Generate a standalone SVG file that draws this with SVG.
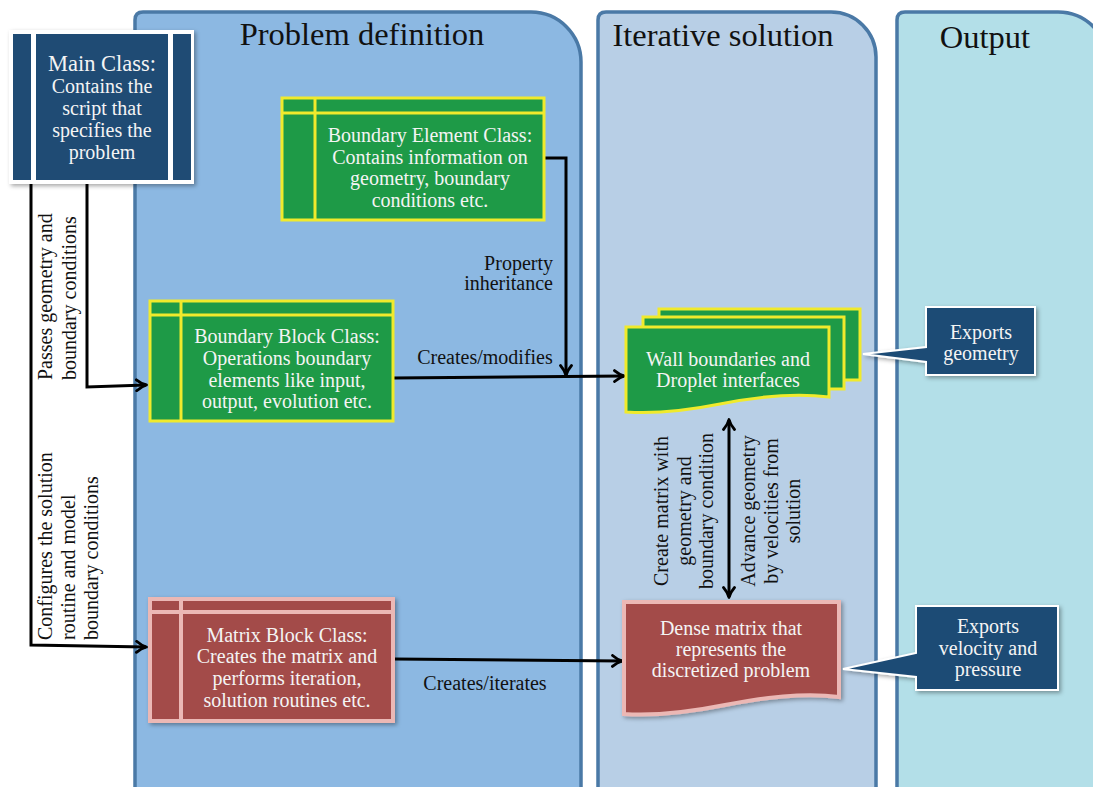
<svg xmlns="http://www.w3.org/2000/svg" width="1093" height="787" viewBox="0 0 1093 787">
<style>
text{font-family:"Liberation Serif","Times New Roman",serif;font-size:20px}
.w{fill:#f4f4f4;text-anchor:middle}
.k{fill:#111}
.t{fill:#111;font-size:32.5px;text-anchor:middle}
.c{fill:#111;text-anchor:middle}
.col{stroke:#4a79a6;stroke-width:3.5}
.g{fill:#1e9a47;stroke:#f0ea2c;stroke-width:3}
.r{fill:#a34c4a;stroke:#ebb8b5;stroke-width:4}
.ln{fill:none;stroke:#000;stroke-width:3}
.db{fill:#1f4b74}
</style>
<defs>
<marker id="ah" viewBox="0 0 14 14" refX="12" refY="7" markerWidth="14" markerHeight="14" markerUnits="userSpaceOnUse" orient="auto-start-reverse">
<path d="M2.5,1.5 Q7,5.5 12.5,7 Q7,8.5 2.5,12.5" fill="none" stroke="#000" stroke-width="2.8" stroke-linecap="round" stroke-linejoin="round"/>
</marker>
<filter id="sh" x="-10%" y="-10%" width="130%" height="130%">
<feDropShadow dx="2" dy="2" stdDeviation="2" flood-color="#000" flood-opacity="0.35"/>
</filter>
</defs>

<!-- columns -->
<g id="col-problem">
<path class="col" fill="#8cb8e2" d="M135,792 V20 Q135,12 143,12 H531 A50,50 0 0 1 581,62 V792"/>
<text class="t" x="362" y="45">Problem definition</text>
</g>
<g id="col-iterative">
<path class="col" fill="#b8cfe6" d="M598,792 V20 Q598,12 606,12 H831 A45,45 0 0 1 876,57 V792"/>
<text class="t" x="723" y="46">Iterative solution</text>
</g>
<g id="col-output">
<path class="col" fill="#b3dfe8" d="M897,792 V20 Q897,12 905,12 H1058 A50,50 0 0 1 1108,62 V792"/>
<text class="t" x="985" y="48">Output</text>
</g>

<!-- connectors -->
<g id="connectors">
<path class="ln" d="M87,183 V387 L146,385" marker-end="url(#ah)"/>
<path class="ln" d="M31,183 V645 L146,647" marker-end="url(#ah)"/>
<path class="ln" d="M544,158 H566 V375" marker-end="url(#ah)"/>
<path class="ln" d="M393,378 L624,376" marker-end="url(#ah)"/>
<path class="ln" d="M394,659 L622,661" marker-end="url(#ah)"/>
<path class="ln" d="M729,420 V597" marker-start="url(#ah)" marker-end="url(#ah)"/>
<text class="k" x="553" y="270" text-anchor="end">Property</text>
<text class="k" x="553" y="290" text-anchor="end">inheritance</text>
<text class="k" x="485" y="364" text-anchor="middle">Creates/modifies</text>
<text class="k" x="485" y="690" text-anchor="middle">Creates/iterates</text>
<g transform="translate(52,380) rotate(-90)"><text class="k" x="0" y="0">Passes geometry and</text></g>
<g transform="translate(76,380) rotate(-90)"><text class="k" x="0" y="0">boundary conditions</text></g>
<g transform="translate(52,640) rotate(-90)"><text class="k" x="0" y="0">Configures the solution</text></g>
<g transform="translate(75,640) rotate(-90)"><text class="k" x="0" y="0">routine and model</text></g>
<g transform="translate(98,640) rotate(-90)"><text class="k" x="0" y="0">boundary conditions</text></g>
<g transform="translate(668,511) rotate(-90)"><text class="c" x="0" y="0">Create matrix with</text></g>
<g transform="translate(691,511) rotate(-90)"><text class="c" x="0" y="0">geometry and</text></g>
<g transform="translate(713,511) rotate(-90)"><text class="c" x="0" y="0">boundary condition</text></g>
<g transform="translate(755,511) rotate(-90)"><text class="c" x="0" y="0">Advance geometry</text></g>
<g transform="translate(778,511) rotate(-90)"><text class="c" x="0" y="0">by velocities from</text></g>
<g transform="translate(800,511) rotate(-90)"><text class="c" x="0" y="0">solution</text></g>
</g>

<!-- main class -->
<g id="main-class">
<rect x="9" y="30" width="185" height="154" fill="#fff" filter="url(#sh)"/>
<rect class="db" x="13" y="34" width="18" height="146"/>
<rect class="db" x="36" y="34" width="132" height="146"/>
<rect class="db" x="173" y="34" width="18" height="146"/>
<text class="w" x="102" y="71" style="font-size:22.5px">Main Class:</text>
<text class="w" x="102" y="93">Contains the</text>
<text class="w" x="102" y="115">script that</text>
<text class="w" x="102" y="137">specifies the</text>
<text class="w" x="102" y="159">problem</text>
</g>

<!-- boundary element class -->
<g id="boundary-element">
<rect class="g" x="282" y="98" width="262" height="122"/>
<path class="g" fill="none" d="M282,113 H544 M315,98 V220"/>
<text class="w" x="430" y="142">Boundary Element Class:</text>
<text class="w" x="430" y="163.5">Contains information on</text>
<text class="w" x="430" y="185">geometry, boundary</text>
<text class="w" x="430" y="206.5">conditions etc.</text>
</g>

<!-- boundary block class -->
<g id="boundary-block">
<rect class="g" x="150" y="301" width="243" height="120"/>
<path class="g" fill="none" d="M150,315 H393 M181,301 V421"/>
<text class="w" x="287" y="343">Boundary Block Class:</text>
<text class="w" x="287" y="365">Operations boundary</text>
<text class="w" x="287" y="387">elements like input,</text>
<text class="w" x="287" y="408">output, evolution etc.</text>
</g>

<!-- matrix block class -->
<g id="matrix-block">
<rect class="r" x="150" y="599" width="243" height="122" filter="url(#sh)"/>
<path class="r" fill="none" d="M150,612 H393 M181,599 V721"/>
<text class="w" x="287" y="642">Matrix Block Class:</text>
<text class="w" x="287" y="663">Creates the matrix and</text>
<text class="w" x="287" y="685">performs iteration,</text>
<text class="w" x="287" y="707">solution routines etc.</text>
</g>

<!-- wall boundaries -->
<g id="wall-boundaries">
<path class="g" d="M659,309 H860 V380 H659 Z"/>
<path class="g" d="M643,317 H844 V389 H643 Z"/>
<path class="g" d="M626,327 H829 V397 C790,392 750,398 720,404 C690,410 655,414 626,412 Z"/>
<text class="w" x="728" y="366">Wall boundaries and</text>
<text class="w" x="728" y="387">Droplet interfaces</text>
</g>

<!-- dense matrix -->
<g id="dense-matrix">
<path class="r" filter="url(#sh)" d="M624,602 H839 V697 C800,692 760,698 725,705 C690,712 655,716 624,714 Z"/>
<text class="w" x="731" y="635">Dense matrix that</text>
<text class="w" x="731" y="656">represents the</text>
<text class="w" x="731" y="677">discretized problem</text>
</g>

<!-- exports geometry -->
<g id="exports-geometry">
<path class="db" stroke="#fff" stroke-width="2" filter="url(#sh)" d="M926,307 H1035 V375 H926 V362 L863,354 L926,347 Z"/>
<text class="w" x="981" y="339">Exports</text>
<text class="w" x="981" y="360">geometry</text>
</g>

<!-- exports velocity -->
<g id="exports-velocity">
<path class="db" stroke="#fff" stroke-width="2" filter="url(#sh)" d="M916,606 H1058 V690 H916 V677 L843,669 L916,653 Z"/>
<text class="w" x="988" y="633">Exports</text>
<text class="w" x="988" y="655">velocity and</text>
<text class="w" x="988" y="676">pressure</text>
</g>
</svg>
